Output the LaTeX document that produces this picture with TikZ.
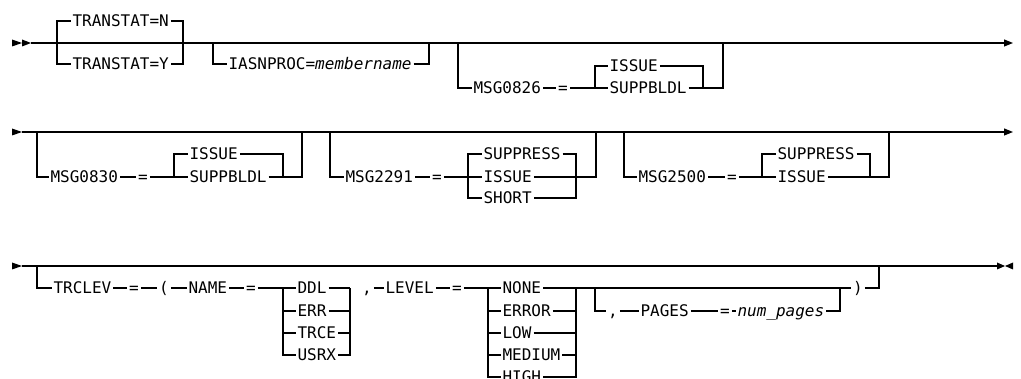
\documentclass[tikz,border=0pt]{standalone}
\usepackage{fontspec}
\setmonofont{DejaVu Sans Mono}
\usepackage{tikz}
\usetikzlibrary{arrows.meta, positioning, calc}
\tikzset{
  syntax_word/.style={font=\ttfamily\fontsize{16}{18}\selectfont, inner xsep=1.5pt, inner ysep=0pt, text height=11.7pt, text depth=0pt, anchor=west},
  syntax_sym/.style={syntax_word, anchor=center},
  rail/.style={-, line width=1.1pt, black},
  main_rail/.style={rail, ->},
  rail_tip/.style={fill=black},
  rail_stub/.style={line width=2.2pt, black}
}

\begin{document}
\begin{tikzpicture}[
    x=1pt, y=-1pt,
    >={Triangle[length=9pt, width=7pt]},
    line width=1.1pt
]
\useasboundingbox (0,0) rectangle (1021,379);

% 1. Row one: main rail
\coordinate (rowOneStart) at (31,43);
\coordinate (rowOneEnd) at (1013,43);
\fill[rail_tip] (12,39.5) -- (22,43) -- (12,46.5) -- cycle;
\fill[rail_tip] (22,39.5) -- (31,43) -- (22,46.5) -- cycle;
\draw[main_rail] (rowOneStart) -- (rowOneEnd);

% TRANSTAT choice
\coordinate (tsL) at (57,43);
\coordinate (tsR) at (183,43);
\node[syntax_word] (tsN) at (70.5,21) {TRANSTAT=N};
\node[syntax_word] (tsY) at (70.5,64) {TRANSTAT=Y};
\draw[rail] (tsN.west) -| (tsL) |- (tsY.west);
\draw[rail] (tsN.east) -| (tsR) |- (tsY.east);

% IASNPROC option
\coordinate (iasL) at (213,43);
\coordinate (iasR) at (429,43);
\node[syntax_word] (iasN) at (226.5,64) {IASNPROC=\textit{membername}};
\draw[rail] (iasL) |- (iasN.west);
\draw[rail] (iasN.east) -| (iasR);

% MSG0826 option
\coordinate (m826L) at (458,43);
\coordinate (m826R) at (723,43);
\coordinate (in826L) at (595,88);
\coordinate (in826R) at (703,88);
\node[syntax_word] (m826N) at (471.5,88) {MSG0826};
\node[syntax_sym] (eq826) at (563,88) {=};
\node[syntax_word] (iss826) at (607.5,66) {ISSUE};
\node[syntax_word] (sbl826) at (607.5,88) {SUPPBLDL};
\draw[rail] (m826L) |- (m826N.west);
\draw[rail] (m826N.east) -- (eq826.west);
\draw[rail] (eq826.east) -- (sbl826.west);
\draw[rail] (iss826.west) -| (in826L);
\draw[rail] (iss826.east) -| (in826R);
\draw[rail] (sbl826.east) -| (m826R);

% 2. Row two: main rail
\coordinate (rowTwoStart) at (22,132);
\coordinate (rowTwoEnd) at (1013,132);
\fill[rail_tip] (12,128.5) -- (22,132) -- (12,135.5) -- cycle;
\draw[main_rail] (rowTwoStart) -- (rowTwoEnd);

% MSG0830 option
\coordinate (m830L) at (37,132);
\coordinate (m830R) at (302,132);
\coordinate (in830L) at (174,177);
\coordinate (in830R) at (283,177);
\node[syntax_word] (m830N) at (48.5,177) {MSG0830};
\node[syntax_sym] (eq830) at (143,177) {=};
\node[syntax_word] (iss830) at (187.5,154) {ISSUE};
\node[syntax_word] (sbl830) at (187.5,177) {SUPPBLDL};
\draw[rail] (m830L) |- (m830N.west);
\draw[rail] (m830N.east) -- (eq830.west);
\draw[rail] (eq830.east) -- (sbl830.west);
\draw[rail] (iss830.west) -| (in830L);
\draw[rail] (iss830.east) -| (in830R);
\draw[rail] (sbl830.east) -| (m830R);

% MSG2291 option
\coordinate (m2291L) at (330,132);
\coordinate (m2291R) at (596,132);
\coordinate (in2291L) at (468,177);
\coordinate (in2291R) at (576,177);
\node[syntax_word] (m2291N) at (343.5,177) {MSG2291};
\node[syntax_sym] (eq2291) at (437,177) {=};
\node[syntax_word] (sup2291) at (481.5,154) {SUPPRESS};
\node[syntax_word] (iss2291) at (481.5,177) {ISSUE};
\node[syntax_word] (sho2291) at (481.5,198) {SHORT};
\draw[rail] (m2291L) |- (m2291N.west);
\draw[rail] (m2291N.east) -- (eq2291.west);
\draw[rail] (eq2291.east) -- (iss2291.west);
\draw[rail] (sup2291.west) -| (in2291L) |- (sho2291.west);
\draw[rail] (sup2291.east) -| (in2291R) |- (sho2291.east);
\draw[rail] (iss2291.east) -| (m2291R);

% MSG2500 option
\coordinate (m2500L) at (624,132);
\coordinate (m2500R) at (889,132);
\coordinate (in2500L) at (762,177);
\coordinate (in2500R) at (870,177);
\node[syntax_word] (m2500N) at (636.5,177) {MSG2500};
\node[syntax_sym] (eq2500) at (732,177) {=};
\node[syntax_word] (sup2500) at (775.5,154) {SUPPRESS};
\node[syntax_word] (iss2500) at (775.5,177) {ISSUE};
\draw[rail] (m2500L) |- (m2500N.west);
\draw[rail] (m2500N.east) -- (eq2500.west);
\draw[rail] (eq2500.east) -- (iss2500.west);
\draw[rail] (sup2500.west) -| (in2500L);
\draw[rail] (sup2500.east) -| (in2500R);
\draw[rail] (iss2500.east) -| (m2500R);

% 3. Row three: main rail
\coordinate (rowThreeStart) at (22,266);
\coordinate (rowThreeEnd) at (997,266);
\fill[rail_tip] (12,262.5) -- (22,266) -- (12,269.5) -- cycle;
\draw[rail] (rowThreeStart) -- (rowThreeEnd);
\fill[rail_tip] (997,262.5) -- (1005,266) -- (997,269.5) -- cycle;
\fill[rail_tip] (1013,262.5) -- (1005,266) -- (1013,269.5) -- cycle;
\coordinate (stubA) at (883,266);
\coordinate (stubB) at (903,266);
\draw[rail_stub] (stubA) -- (stubB);

% TRCLEV option
\coordinate (trcL) at (37,266);
\coordinate (trcR) at (879,266);
\node[syntax_word] (trcN) at (51.5,288) {TRCLEV};
\node[syntax_sym] (eqTrc) at (134,288) {=};
\node[syntax_sym] (lpar) at (164,288) {(};
\node[syntax_word] (nameN) at (186.5,288) {NAME};
\node[syntax_sym] (eqName) at (251,288) {=};
\draw[rail] (trcL) |- (trcN.west);
\draw[rail] (trcN.east) -- (eqTrc.west);
\draw[rail] (eqTrc.east) -- (lpar.west);
\draw[rail] (lpar.east) -- (nameN.west);
\draw[rail] (nameN.east) -- (eqName.west);

% NAME values
\coordinate (nameL) at (283,288);
\coordinate (nameR) at (350,288);
\node[syntax_word] (ddl) at (295.5,288) {DDL};
\node[syntax_word] (err) at (295.5,311) {ERR};
\node[syntax_word] (trce) at (295.5,333) {TRCE};
\node[syntax_word] (usrx) at (295.5,355) {USRX};
\draw[rail] (eqName.east) -- (ddl.west);
\draw[rail] (ddl.east) -- (nameR);
\foreach \v in {err, trce, usrx} {
    \draw[rail] (nameL) |- (\v.west);
    \draw[rail] (\v.east) -| (nameR);
}

% LEVEL values
\coordinate (lvlL) at (488,288);
\coordinate (lvlR) at (576,288);
\node[syntax_sym] (comLvl) at (367,288) {,};
\node[syntax_word] (lvlN) at (383.5,288) {LEVEL};
\node[syntax_sym] (eqLvl) at (457,288) {=};
\node[syntax_word] (none) at (500.5,288) {NONE};
\node[syntax_word] (error) at (500.5,311) {ERROR};
\node[syntax_word] (low) at (500.5,333) {LOW};
\node[syntax_word] (medium) at (500.5,355) {MEDIUM};
\node[syntax_word] (high) at (500.5,377) {HIGH};
\draw[rail] (comLvl.east) -- (lvlN.west);
\draw[rail] (lvlN.east) -- (eqLvl.west);
\draw[rail] (eqLvl.east) -- (none.west);
\foreach \v in {error, low, medium, high} {
    \draw[rail] (lvlL) |- (\v.west);
    \draw[rail] (\v.east) -| (lvlR);
}

% PAGES option and closing parenthesis
\coordinate (pgL) at (595,288);
\coordinate (pgR) at (840,288);
\node[syntax_sym] (comPg) at (613,311) {,};
\node[syntax_word] (pagesN) at (638.5,311) {PAGES};
\node[syntax_sym] (eqPg) at (725,311) {=};
\node[syntax_word] (numPg) at (735.5,311) {\textit{num\_pages}};
\node[syntax_sym] (rpar) at (858,288) {)};
\draw[rail] (pgL) |- (comPg.west);
\draw[rail] (comPg.east) -- (pagesN.west);
\draw[rail] (pagesN.east) -- (eqPg.west);
\draw[rail] (eqPg.east) -- (numPg.west);
\draw[rail] (numPg.east) -| (pgR);
\draw[rail] (none.east) -- (rpar.west);
\draw[rail] (rpar.east) -| (trcR);

\end{tikzpicture}
\end{document}
